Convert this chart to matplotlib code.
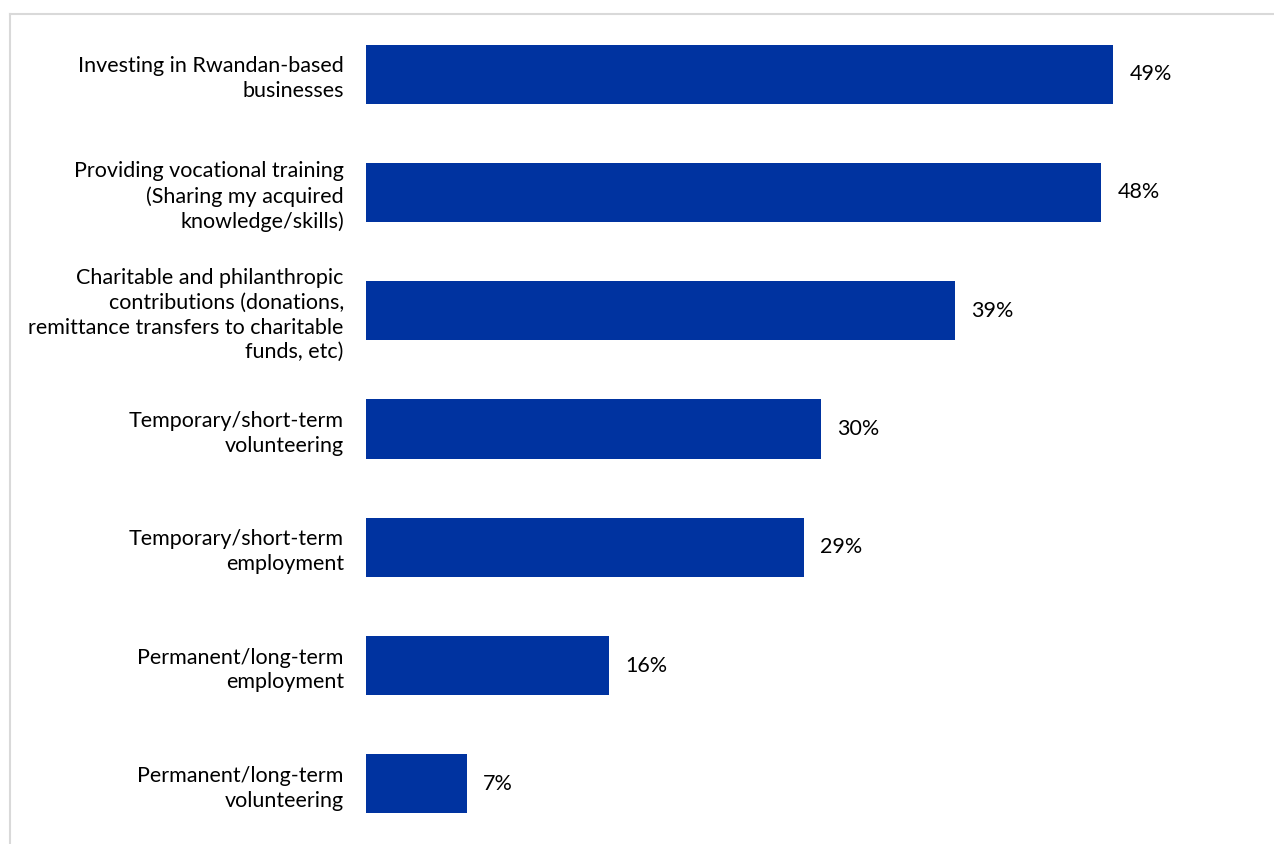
import numpy as np
import matplotlib.pyplot as plt
from matplotlib.lines import Line2D

categories = [
    'Investing in Rwandan-based\nbusinesses',
    'Providing vocational training\n(Sharing my acquired\nknowledge/skills)',
    'Charitable and philanthropic\ncontributions (donations,\nremittance transfers to charitable\nfunds, etc)',
    'Temporary/short-term\nvolunteering',
    'Temporary/short-term\nemployment',
    'Permanent/long-term\nemployment',
    'Permanent/long-term\nvolunteering',
]
# bar lengths (labels show them rounded)
values = [49.0, 48.2, 38.6, 29.8, 28.7, 15.9, 6.6]

bar_color = '#0033a0'
text_color = '#000000'
frame_color = '#d9d9d9'

plt.rcParams['font.family'] = ['Lato', 'DejaVu Sans']

W, H = 1274, 844
fig = plt.figure(figsize=(W / 100, H / 100), dpi=100)

# light frame along the top and left edges
fig.add_artist(Line2D([10 / W, 1], [1 - 14 / H, 1 - 14 / H], color=frame_color, lw=1.5))
fig.add_artist(Line2D([10 / W, 10 / W], [0, 1 - 14 / H], color=frame_color, lw=1.5))

ax = fig.add_axes([366 / W, 1 / H, 839 / W, 828 / H])
y = np.arange(len(values))
ax.barh(y, values, height=0.5, color=bar_color)
ax.set_ylim(len(values) - 0.5, -0.5)
ax.set_xlim(0, 55)

for yi, v in zip(y, values):
    ax.annotate(f'{v:.0f}%', (v, yi), xytext=(12, 0), textcoords='offset points',
                va='center', ha='left', fontsize=15.5, color=text_color)

ax.set_yticks(y)
ax.set_yticklabels(categories, fontsize=15.5, color=text_color, linespacing=1.3)
ax.tick_params(axis='y', length=0, pad=16)
ax.set_xticks([])
for s in ax.spines.values():
    s.set_visible(False)

plt.savefig('out.png', dpi=100, facecolor='white')
